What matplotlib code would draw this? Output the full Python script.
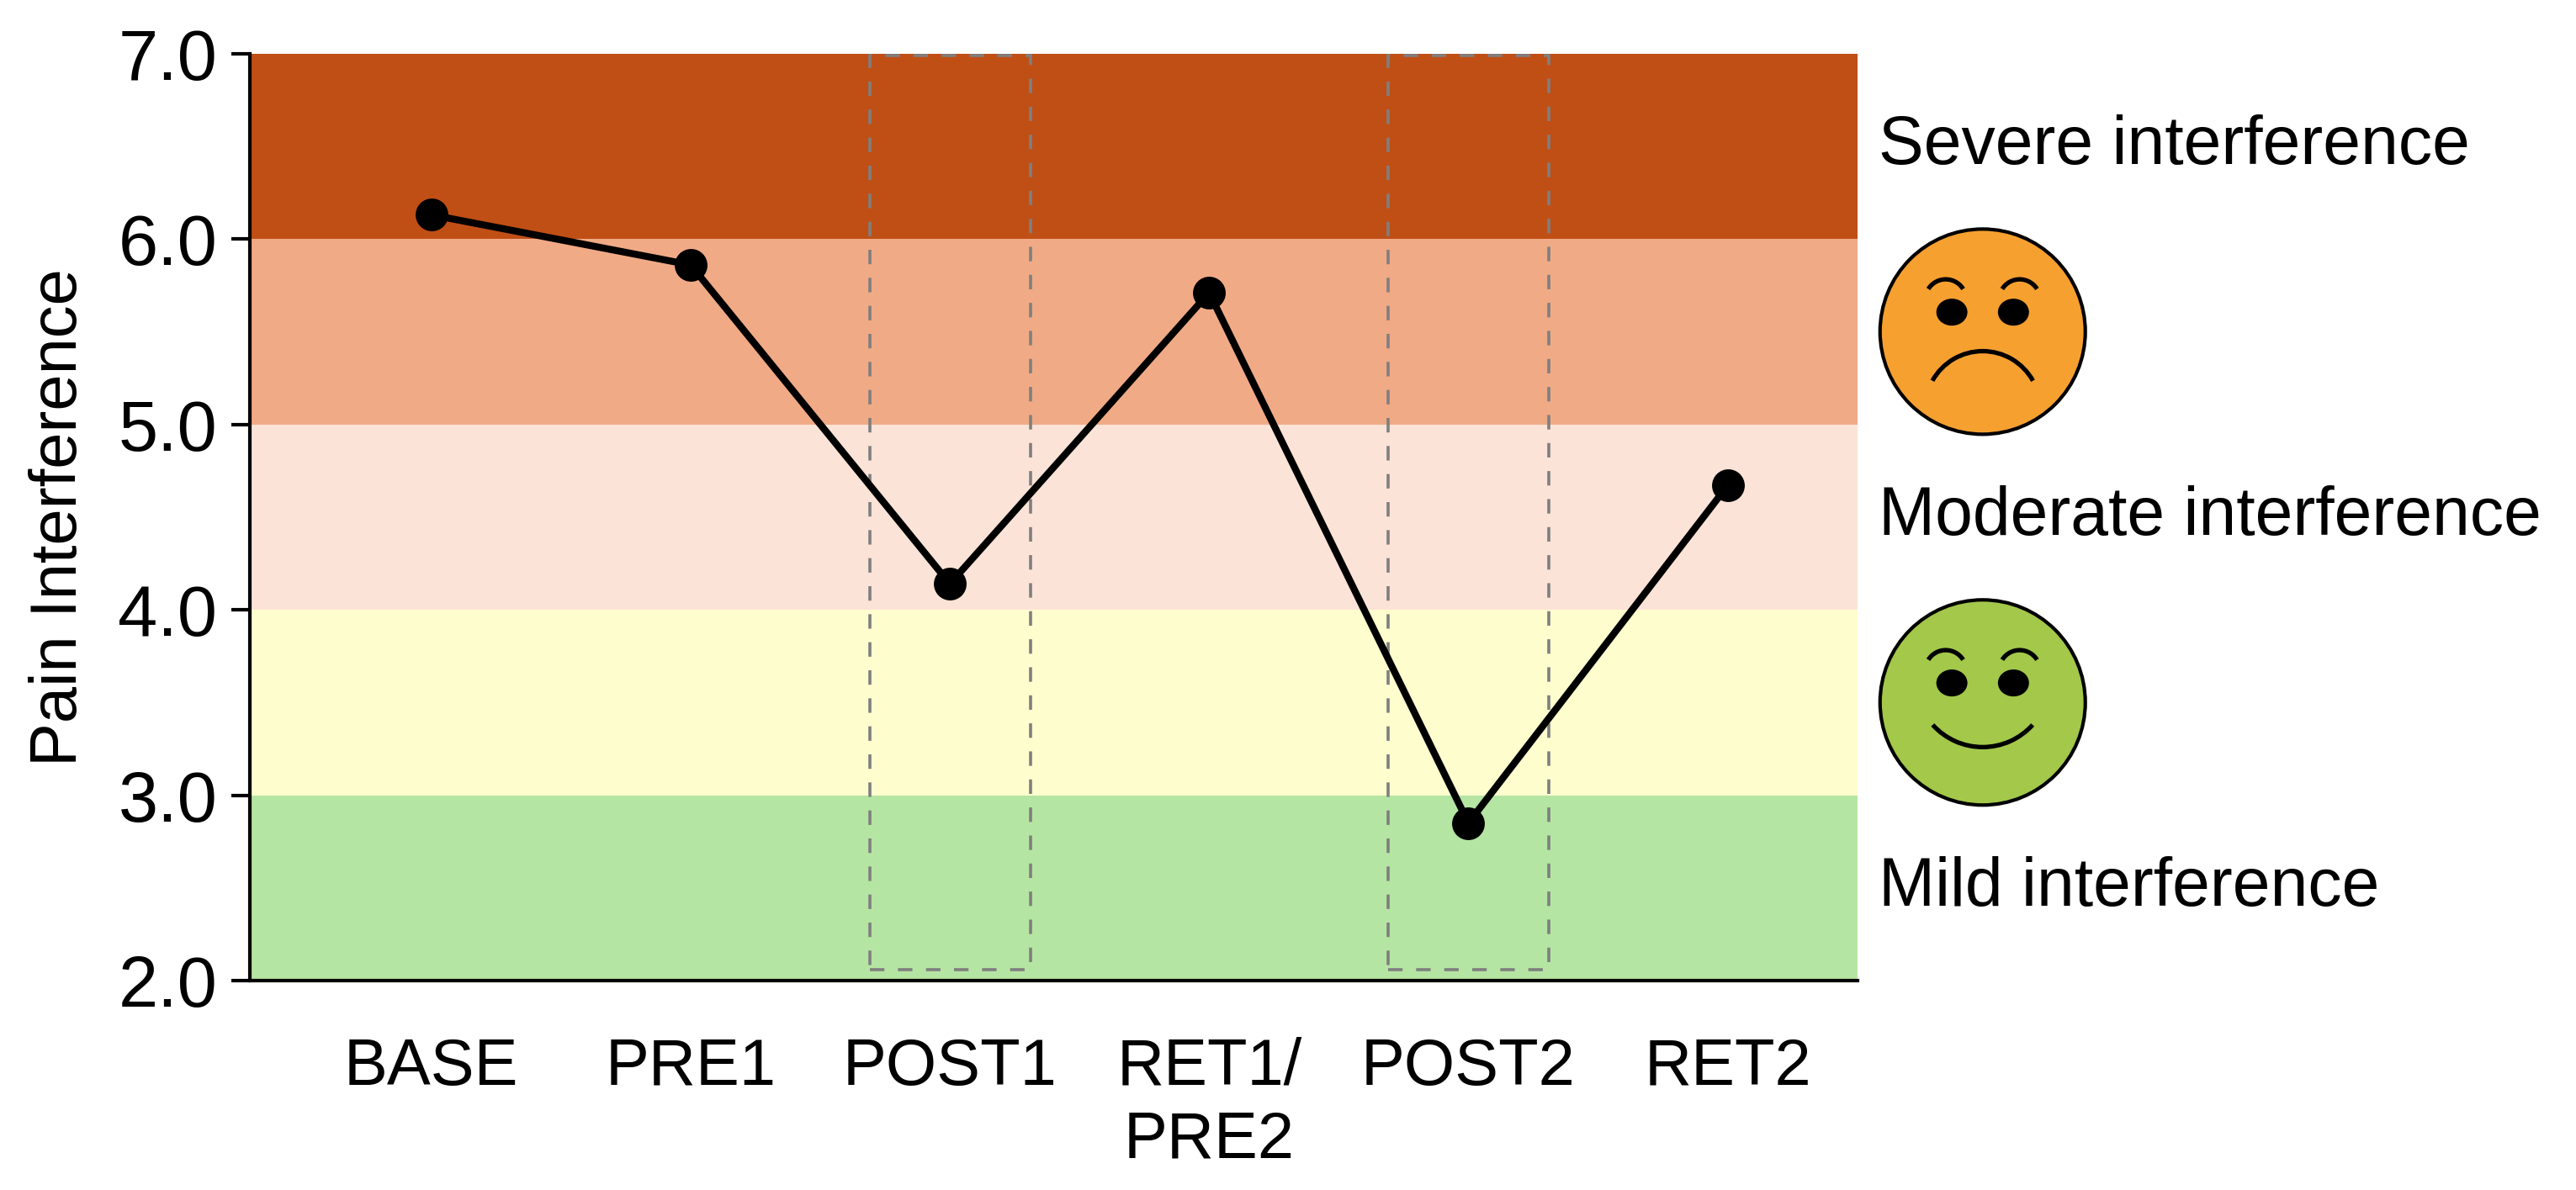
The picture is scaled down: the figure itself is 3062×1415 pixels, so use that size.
import numpy as np
import matplotlib
matplotlib.use("Agg")
import matplotlib.pyplot as plt
from matplotlib.patches import Rectangle, Circle, Ellipse, Arc

plt.rcParams["font.family"] = ["Liberation Sans", "DejaVu Sans"]

# data
timepoints = ["BASE", "PRE1", "POST1", "RET1/\nPRE2", "POST2", "RET2"]
pain_interference = [6.13, 5.86, 4.14, 5.71, 2.85, 4.67]
highlighted = ["POST1", "POST2"]

band_edges = [2.0, 3.0, 4.0, 5.0, 6.0, 7.0]
band_colors = ["#b5e5a2", "#fefdce", "#fce3d7", "#f1aa86", "#c04f16"]

zone_labels = ["Severe interference", "Moderate interference", "Mild interference"]
zone_label_y = [6.5, 4.5, 2.5]
face_y = [5.5, 3.5]
face_colors = ["#f6a030", "#a3c84a"]
face_moods = ["sad", "happy"]

W, H, DPI = 3062, 1415, 200
fig = plt.figure(figsize=(W / DPI, H / DPI), dpi=DPI)
ax = fig.add_axes([0.097, 0.176, 0.624, 0.779])

x = np.arange(len(timepoints))

# coloured severity bands
for lo, hi, c in zip(band_edges[:-1], band_edges[1:], band_colors):
    ax.axhspan(lo, hi, color=c, zorder=0, lw=0)

# dashed boxes around post-treatment points
lw_box = 1.3
for name in highlighted:
    i = timepoints.index(name)
    ax.add_patch(Rectangle((i - 0.31, 2.06), 0.62, 4.93, fill=False,
                           edgecolor="#7f7f7f", lw=lw_box,
                           linestyle=(0, (6.2 / lw_box, 5.8 / lw_box)), zorder=2))

ax.plot(x, pain_interference, "-o", color="black", lw=3.0, markersize=13, zorder=3)

ax.set_xlim(-0.7, 5.5)
ax.set_ylim(2.0, 7.0)
ax.set_yticks(band_edges)
ax.set_yticklabels([f"{v:.1f}" for v in band_edges])
ax.set_xticks(x)
ax.set_xticklabels(timepoints, linespacing=1.25)
ax.tick_params(axis="y", labelsize=30.5, length=8, width=1.5, pad=6)
ax.tick_params(axis="x", labelsize=28, length=0, pad=24)
ax.set_ylabel("Pain Interference", fontsize=28, labelpad=12)

for s in ["top", "right"]:
    ax.spines[s].set_visible(False)
for s in ["left", "bottom"]:
    ax.spines[s].set_linewidth(1.5)

# zone labels on the right
tr = ax.get_yaxis_transform()
for txt, yv in zip(zone_labels, zone_label_y):
    ax.text(1.013, yv, txt, transform=tr, fontsize=29, va="center", ha="left",
            clip_on=False)

# smiley faces drawn in pixel space
ov = fig.add_axes([0, 0, 1, 1], zorder=5)
ov.set_xlim(0, W)
ov.set_ylim(0, H)
ov.set_aspect("equal")
ov.axis("off")

R = 122
cx = ax.transAxes.transform((1.078, 0))[0] * W / fig.bbox.width
for yv, col, mood in zip(face_y, face_colors, face_moods):
    cy = ax.transData.transform((0, yv))[1] * H / fig.bbox.height
    ov.add_patch(Circle((cx, cy), R, facecolor=col, edgecolor="black", lw=1.5))
    for sgn in (-1, 1):
        ov.add_patch(Ellipse((cx + sgn * 0.30 * R, cy + 0.19 * R), 0.28 * R, 0.24 * R,
                             color="black"))
        ov.add_patch(Arc((cx + sgn * 0.36 * R, cy + 0.31 * R), 0.40 * R, 0.40 * R,
                         theta1=32, theta2=148, color="black", lw=1.9))
    if mood == "sad":
        ov.add_patch(Arc((cx, cy - 0.75 * R), 1.12 * R, 1.12 * R,
                         theta1=29, theta2=151, color="black", lw=1.9))
    else:
        ov.add_patch(Arc((cx, cy + 0.22 * R), 1.31 * R, 1.31 * R,
                         theta1=222, theta2=318, color="black", lw=1.9))

fig.savefig("out.png", dpi=DPI)
